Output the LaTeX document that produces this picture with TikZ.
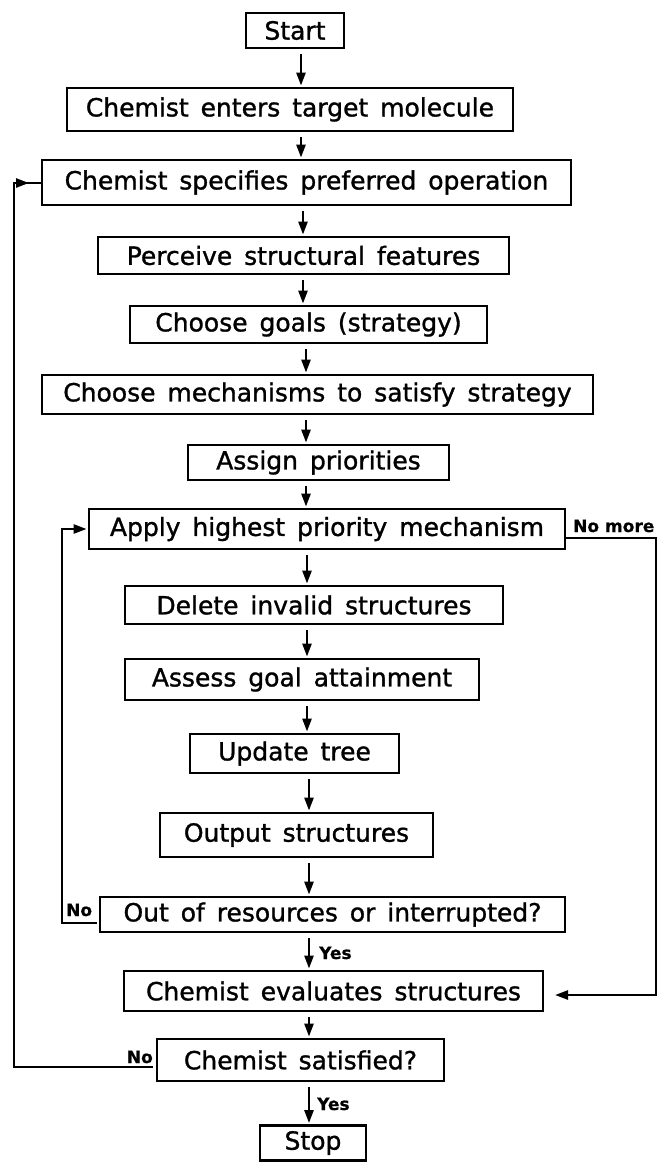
\documentclass[tikz,border=0pt]{standalone}
\usepackage{fontspec}
\setmainfont{DejaVu Sans}[WordSpace=1.5, FakeBold=1.2]
\newfontfamily\lblfont{DejaVu Sans}[FakeBold=0.6]
\usetikzlibrary{arrows.meta}
\begin{document}
\begin{tikzpicture}[x=1pt,y=-1pt,
  box/.style={draw, line width=2.8pt, inner sep=0pt, font=\fontsize{25}{29}\selectfont},
  arr/.style={line width=2.5pt, -{Triangle[length=13pt,width=9pt]}},
  ln/.style={line width=2.5pt},
  lbl/.style={font=\lblfont\fontsize{17}{19}\selectfont\bfseries, inner sep=0pt}]
\useasboundingbox (0,0) rectangle (662,1162);
% boxes
\node[box, minimum width=98pt,  minimum height=35pt] (start)  at (295,30.5)  {Start};
\node[box, minimum width=446pt, minimum height=43pt] (enters) at (290,109.5) {Chemist enters target molecule};
\node[box, minimum width=529pt, minimum height=45pt] (spec)   at (306.5,182.5) {Chemist specifies preferred operation};
\node[box, minimum width=411pt, minimum height=37pt] (perc)   at (303.5,255.5) {Perceive structural features};
\node[box, minimum width=357pt, minimum height=37pt] (goals)  at (308.5,324.5) {Choose goals (strategy)};
\node[box, minimum width=551pt, minimum height=39pt] (mech)   at (317.5,394.5) {Choose mechanisms to satisfy strategy};
\node[box, minimum width=261pt, minimum height=35pt] (assign) at (318.5,462.5) {Assign priorities};
\node[box, minimum width=476pt, minimum height=40pt] (apply)  at (327,529)   {Apply highest priority mechanism};
\node[box, minimum width=378pt, minimum height=38pt] (delete) at (314,605)   {Delete invalid structures};
\node[box, minimum width=354pt, minimum height=41pt] (assess) at (302,679.5) {Assess goal attainment};
\node[box, minimum width=209pt, minimum height=39pt] (update) at (294.5,753.5) {Update tree};
\node[box, minimum width=273pt, minimum height=44pt] (output) at (296.5,835) {Output structures};
\node[box, minimum width=465pt, minimum height=35pt] (outres) at (332.5,914.5) {Out of resources or interrupted?};
\node[box, minimum width=419pt, minimum height=40pt] (evalu)  at (333.5,991) {Chemist evaluates structures};
\node[box, minimum width=287pt, minimum height=42pt] (satis)  at (300.5,1060) {Chemist satisfied?};
\node[box, minimum width=106pt, minimum height=35pt] (stop)   at (313,1143) {Stop};
% arrow axes
\coordinate (ax1) at (301,0);
\coordinate (ax2) at (303,0);
\coordinate (ax3) at (306,0);
\coordinate (ax4) at (307,0);
\coordinate (ax5) at (309,0);
\begin{scope}[arr, shorten <=5pt, shorten >=1pt]
\draw (start.south -| ax1)  -- (enters.north -| ax1);
\draw (enters.south -| ax1) -- (spec.north -| ax1);
\draw (spec.south -| ax2)   -- (perc.north -| ax2);
\draw (perc.south -| ax2)   -- (goals.north -| ax2);
\draw (goals.south -| ax3)  -- (mech.north -| ax3);
\draw (mech.south -| ax3)   -- (assign.north -| ax3);
\draw (assign.south -| ax3) -- (apply.north -| ax3);
\draw (apply.south -| ax4)  -- (delete.north -| ax4);
\draw (delete.south -| ax4) -- (assess.north -| ax4);
\draw (assess.south -| ax4) -- (update.north -| ax4);
\draw (update.south -| ax5) -- (output.north -| ax5);
\draw (output.south -| ax5) -- (outres.north -| ax5);
\draw (outres.south -| ax5) -- (evalu.north -| ax5);
\draw (evalu.south -| ax5)  -- (satis.north -| ax5);
\draw (satis.south -| ax5)  -- (stop.north -| ax5);
\end{scope}
% outer loop
\coordinate (o0) at (153,1067);
\coordinate (o1) at (14,1067);
\coordinate (o2) at (14,183);
\coordinate (o3) at (29,183);
\draw[ln] (o0) -- (o1) -- (o2) -- (spec.west |- o2);
\draw[arr] (o2) -- (o3);
% inner loop
\coordinate (i0) at (97,923);
\coordinate (i1) at (62,923);
\coordinate (i2) at (62,529);
\draw[arr, shorten >=1pt] (i0) -- (i1) -- (i2) -- (apply.west |- i2);
% no more loop
\coordinate (r0) at (656,538);
\coordinate (r1) at (656,995);
\coordinate (r2) at (555,995);
\draw[arr] (apply.east |- r0) -- (r0) -- (r1) -- (r2);
% labels
\node[lbl, anchor=base west] (lnomore) at (573,532) {No more};
\node[lbl, anchor=base west] (lno1) at (66,916) {No};
\node[lbl, anchor=base east] (lno2) at (153,1063) {No};
\node[lbl, anchor=base west] (lyes1) at (319,959) {Yes};
\node[lbl, anchor=base west] (lyes2) at (317,1110) {Yes};
\end{tikzpicture}
\end{document}
